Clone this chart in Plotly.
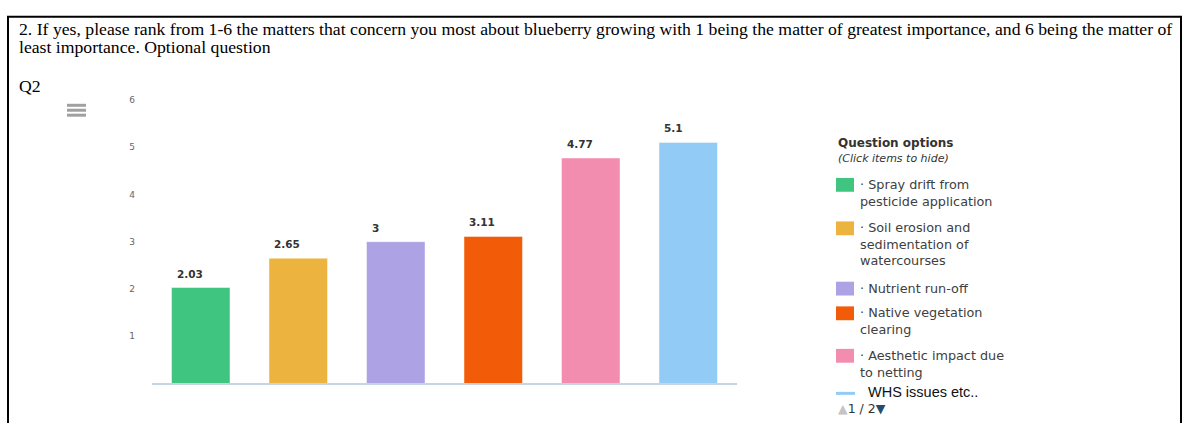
import plotly.graph_objects as go

# Survey question 2: mean rank of each concern (1 = greatest importance)
categories = [
    "Spray drift from pesticide application",
    "Soil erosion and sedimentation of watercourses",
    "Nutrient run-off",
    "Native vegetation clearing",
    "Aesthetic impact due to netting",
    "WHS issues etc.",
]
mean_rank = [2.03, 2.65, 3, 3.11, 4.77, 5.1]
bar_colors = ["#40c580", "#ecb43e", "#aca2e4", "#f25c08", "#f38db0", "#93cbf7"]
legend_labels = [
    "· Spray drift from<br>pesticide application",
    "· Soil erosion and<br>sedimentation of<br>watercourses",
    "· Nutrient run-off",
    "· Native vegetation<br>clearing",
    "· Aesthetic impact due<br>to netting",
    "WHS issues etc..",
]
y_ticks = [1, 2, 3, 4, 5, 6]

W, H = 1185, 423


def px(x):
    return x / W


def py(y):
    return 1 - y / H


fig = go.Figure()
fig.add_trace(go.Bar(
    x=categories,
    y=mean_rank,
    width=0.6,
    marker=dict(color=bar_colors, line=dict(color="rgba(255,255,255,0.45)", width=1)),
    showlegend=False,
    hoverinfo="x+y",
))

annotations = []
# value labels, left-aligned just inside each bar's left edge
for cat, v in zip(categories, mean_rank):
    annotations.append(dict(
        x=cat, y=v, xref="x", yref="y", text=f"<b>{v:g}</b>", showarrow=False,
        xanchor="left", yanchor="bottom", xshift=-26, yshift=6,
        font=dict(family="DejaVu Sans", size=10.5, color="#333333"),
    ))

serif = dict(family="Liberation Serif", size=17.7, color="#000000")
annotations += [
    dict(x=px(17), y=py(24), xref="paper", yref="paper", xanchor="left", yanchor="middle",
         showarrow=False, font=serif,
         text="2. If yes, please rank from 1-6 the matters that concern you most about blueberry "
              "growing with 1 being the matter of greatest importance, and 6 being the matter of"),
    dict(x=px(17), y=py(43), xref="paper", yref="paper", xanchor="left", yanchor="middle",
         showarrow=False, font=serif, text="least importance. Optional question"),
    dict(x=px(17), y=py(82), xref="paper", yref="paper", xanchor="left", yanchor="middle",
         showarrow=False, font=serif, text="Q2"),
    dict(x=px(836), y=py(140), xref="paper", yref="paper", xanchor="left", yanchor="middle",
         showarrow=False, text="<b>Question options</b>",
         font=dict(family="DejaVu Sans", size=12, color="#333333")),
    dict(x=px(836), y=py(155), xref="paper", yref="paper", xanchor="left", yanchor="middle",
         showarrow=False, text="<i>(Click items to hide)</i>",
         font=dict(family="DejaVu Sans", size=11, color="#333333")),
]

shapes = [
    # outer frame
    dict(type="rect", xref="paper", yref="paper", x0=px(8), x1=px(1181), y0=-0.1, y1=py(12),
         line=dict(color="#000000", width=2), fillcolor="rgba(0,0,0,0)", layer="above"),
]
# menu icon
for yy in (101.5, 106.5, 111.5):
    shapes.append(dict(type="line", xref="paper", yref="paper", x0=px(67), x1=px(86),
                       y0=py(yy), y1=py(yy), line=dict(color="#a0a0a0", width=3)))

# custom legend
item_tops = [175, 219, 280, 305, 348]
for top, color, label in zip(item_tops, bar_colors[:5], legend_labels[:5]):
    shapes.append(dict(type="rect", xref="paper", yref="paper", x0=px(836), x1=px(854),
                       y0=py(top + 14), y1=py(top), fillcolor=color, line=dict(width=0)))
    annotations.append(dict(x=px(858), y=py(top - 3), xref="paper", yref="paper",
                            xanchor="left", yanchor="top", align="left", showarrow=False,
                            text=label,
                            font=dict(family="DejaVu Sans", size=12.8, color="#404040")))
shapes.append(dict(type="line", xref="paper", yref="paper", x0=px(836), x1=px(855),
                   y0=py(393), y1=py(393), line=dict(color=bar_colors[5], width=3)))
annotations.append(dict(x=px(866), y=py(392), xref="paper", yref="paper", xanchor="left",
                        yanchor="middle", showarrow=False, text=legend_labels[5],
                        font=dict(family="Liberation Sans", size=14.5, color="#111111")))
annotations.append(dict(x=px(836), y=py(408), xref="paper", yref="paper", xanchor="left",
                        yanchor="middle", showarrow=False,
                        text='<span style="color:#c4c4c4">▲</span>1 / 2'
                             '<span style="color:#274b6d">▼</span>',
                        font=dict(family="DejaVu Sans", size=12.5, color="#333333")))

fig.update_layout(
    width=W, height=H,
    margin=dict(l=0, r=0, t=0, b=0),
    paper_bgcolor="#ffffff", plot_bgcolor="#ffffff",
    xaxis=dict(domain=[px(152), px(737)], showticklabels=False, ticks="",
               showgrid=False, zeroline=False, showline=True,
               linecolor="#c6d4e4", linewidth=1.5),
    yaxis=dict(domain=[py(383), py(96)], range=[0, 6], tickvals=y_ticks,
               showgrid=False, zeroline=False, showline=False, ticks="",
               ticklabelstandoff=16,
               tickfont=dict(family="DejaVu Sans", size=9, color="#666666")),
    annotations=annotations,
    shapes=shapes,
    bargap=0.4,
)

fig.write_html("out.html")
